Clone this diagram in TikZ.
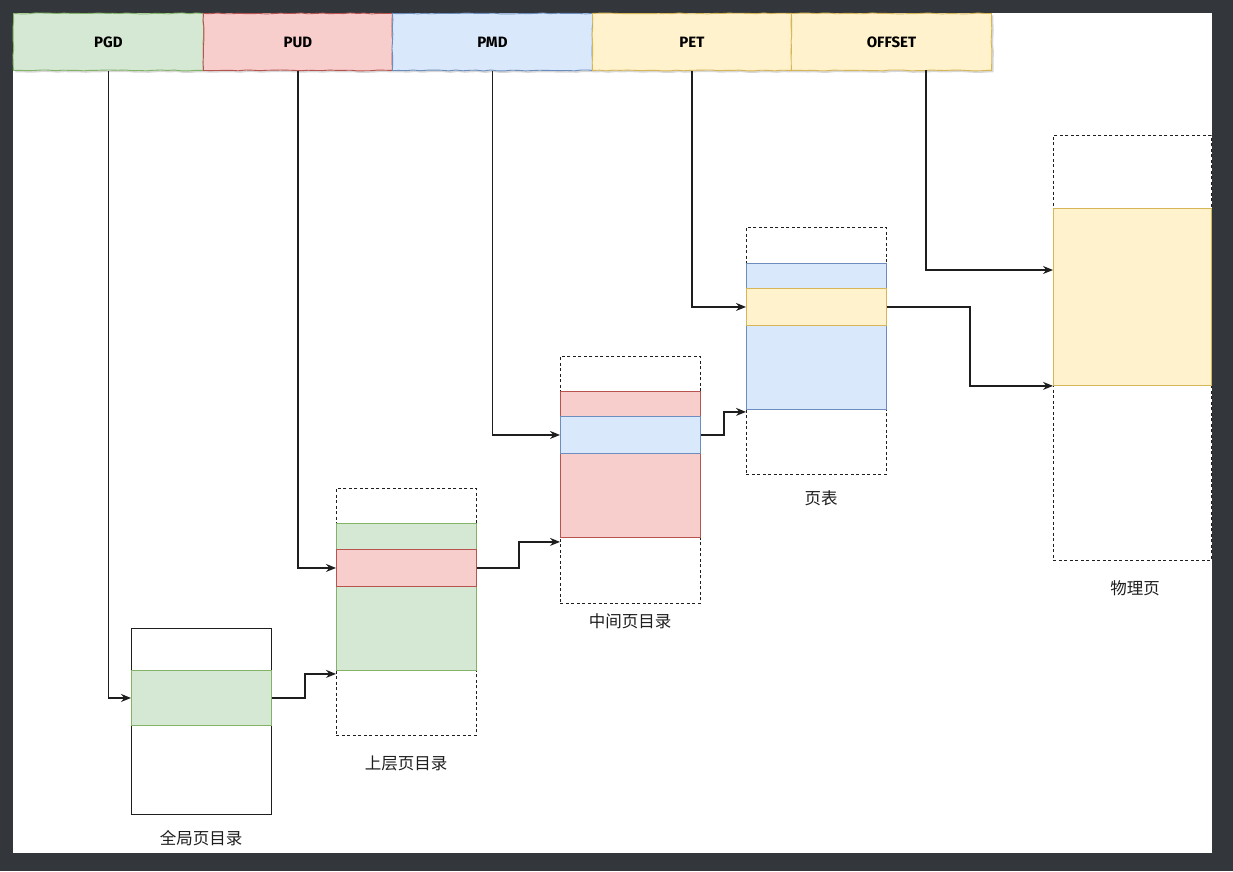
\documentclass[tikz,border=0pt]{standalone}
\usepackage{fontspec}
\setmainfont{Noto Sans CJK SC}
\newfontfamily\hdrfont{Fira Sans}
\usetikzlibrary{arrows.meta,calc,decorations.pathmorphing,shadows}
\definecolor{framebg}{HTML}{33373B}
\definecolor{gfill}{HTML}{D5E8D4}\definecolor{gline}{HTML}{82B366}
\definecolor{rfill}{HTML}{F8CECC}\definecolor{rline}{HTML}{B85450}
\definecolor{bfill}{HTML}{DAE8FC}\definecolor{bline}{HTML}{6C8EBF}
\definecolor{yfill}{HTML}{FFF2CC}\definecolor{yline}{HTML}{D6B656}
\definecolor{ink}{HTML}{1E1E1E}
\tikzset{
  hdr/.style={anchor=north west, minimum height=57, inner sep=0, line width=0.9pt,
    font=\hdrfont\bfseries\fontsize{15}{17}\selectfont, text=black,
    decorate, decoration={random steps, segment length=7pt, amplitude=0.5pt},
    drop shadow={shadow xshift=2pt, shadow yshift=-2pt, fill=black!22, opacity=0.7}},
  pagebox/.style={anchor=north west, minimum width=140, inner sep=0, draw=ink, line width=0.9pt},
  dashbox/.style={pagebox, dash pattern=on 3pt off 2.5pt},
  band/.style={anchor=north west, minimum width=140, inner sep=0, line width=0.9pt},
  caption/.style={font=\fontsize{16.5}{18}\selectfont, text=ink},
  arr/.style={draw=ink, line width=1.2pt, -{Stealth[length=10pt,width=8pt]}}
}
\begin{document}
\begin{tikzpicture}[x=1pt,y=-1pt]
\pgfmathsetseed{7}
% canvas with dark surround
\fill[framebg] (0,0) rectangle (1233,871);
\useasboundingbox (0,0) rectangle (1233,871);
\fill[white] (13,13) rectangle (1212,853);

% address fields, hand-drawn look
\node[hdr, minimum width=190, fill=gfill, draw=gline] (pgd) at (13,13) {PGD};
\node[hdr, minimum width=189, fill=rfill, draw=rline] (pud) at (203,13) {PUD};
\node[hdr, minimum width=200, fill=bfill, draw=bline] (pmd) at (392,13) {PMD};
\node[hdr, minimum width=199, fill=yfill, draw=yline] (pet) at (592,13) {PET};
\node[hdr, minimum width=200, fill=yfill, draw=yline] (off) at (791,13) {OFFSET};

% global page directory
\node[pagebox, minimum height=186] (gtab) at (131,628) {};
\node[band, minimum height=55, fill=gfill, draw=gline] (grow) at (131,670) {};
\node[caption] (gcap) at (201,838) {全局页目录};

% upper page directory
\node[dashbox, minimum height=247] (utab) at (336,488) {};
\node[band, minimum height=147, fill=gfill, draw=gline] (ublk) at (336,523) {};
\node[band, minimum height=37, fill=rfill, draw=rline] (urow) at (336,549) {};
\node[caption] (ucap) at (406,763) {上层页目录};

% middle page directory
\node[dashbox, minimum height=247] (mtab) at (560,356) {};
\node[band, minimum height=146, fill=rfill, draw=rline] (mblk) at (560,391) {};
\node[band, minimum height=37, fill=bfill, draw=bline] (mrow) at (560,416) {};
\node[caption] (mcap) at (630,621) {中间页目录};

% page table
\node[dashbox, minimum height=247] (ptab) at (746,227) {};
\node[band, minimum height=146, fill=bfill, draw=bline] (pblk) at (746,263) {};
\node[band, minimum height=37, fill=yfill, draw=yline] (prow) at (746,288) {};
\node[caption] (pcap) at (821,498) {页表};

% physical page
\node[dashbox, minimum width=158, minimum height=425] (phys) at (1053,135) {};
\node[band, minimum width=158, minimum height=177, fill=yfill, draw=yline] (pyel) at (1053,208) {};
\node[caption] (phcap) at (1135,588) {物理页};

% index fields into table entries
\coordinate (offx) at (926,70);
\coordinate (offy) at (1053,270);
\draw[arr] (pgd.south) |- (grow.west);
\draw[arr] (pud.south) |- (urow.west);
\draw[arr] (pmd.south) |- (mrow.west);
\draw[arr] (pet.south) |- (prow.west);
\draw[arr] (offx) |- (offy);

% entries pointing to the next-level base
\draw[arr] (grow.east) -- ++(33,0) |- ($(ublk.south west)+(0,3)$);
\draw[arr] (urow.east) -- ++(42,0) |- ($(mblk.south west)+(0,4)$);
\draw[arr] (mrow.east) -- ++(23,0) |- ($(pblk.south west)+(0,2)$);
\draw[arr] (prow.east) -- ++(83,0) |- (pyel.south west);
\end{tikzpicture}
\end{document}
